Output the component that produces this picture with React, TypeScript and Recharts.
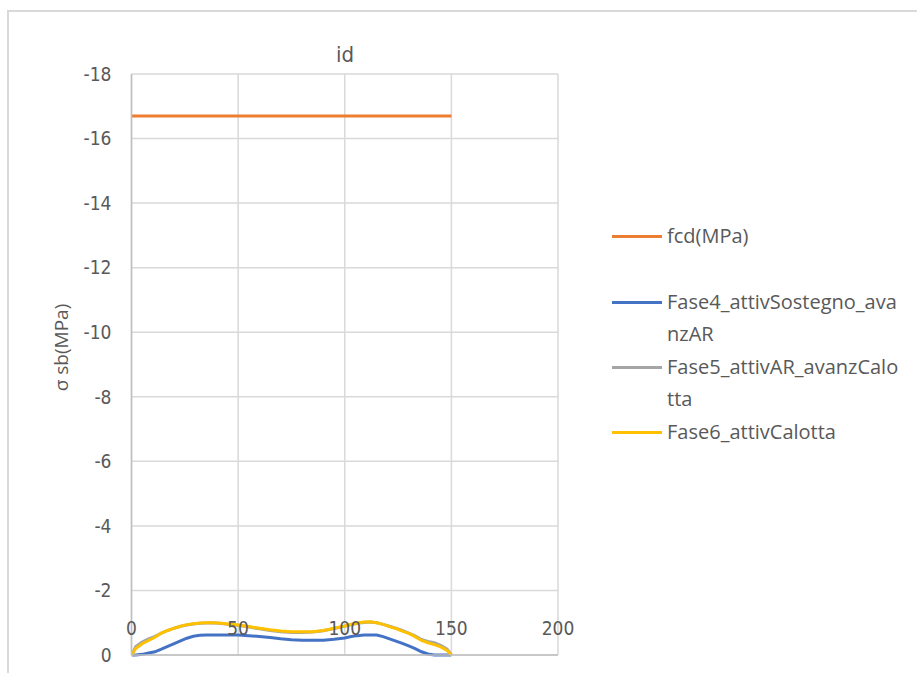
import { LineChart, Line, XAxis, YAxis, CartesianGrid, Legend } from "recharts";

// x positions (m) shared by the three phase curves
const stations = [0, 2, 5, 8, 11, 14, 17, 20, 23, 26, 29, 32, 35, 38, 41, 44, 47, 50, 55, 60, 65, 70, 75, 80, 85, 90, 95, 100, 103, 106, 109, 112, 115, 118, 121, 124, 127, 130, 133, 136, 139, 142, 145, 148, 150];

const fase4 = [0, 0, -0.02, -0.06, -0.1, -0.18, -0.27, -0.35, -0.44, -0.52, -0.58, -0.61, -0.62, -0.62, -0.62, -0.62, -0.62, -0.62, -0.6, -0.57, -0.54, -0.5, -0.47, -0.46, -0.46, -0.46, -0.49, -0.53, -0.57, -0.6, -0.62, -0.62, -0.62, -0.57, -0.5, -0.43, -0.36, -0.28, -0.2, -0.1, -0.03, 0, 0, 0, 0];
const fase5 = [0, -0.26, -0.4, -0.5, -0.58, -0.68, -0.76, -0.83, -0.89, -0.93, -0.96, -0.98, -0.99, -0.99, -0.98, -0.96, -0.94, -0.92, -0.87, -0.81, -0.76, -0.72, -0.7, -0.7, -0.71, -0.75, -0.82, -0.89, -0.94, -0.98, -1.01, -1.02, -1.0, -0.95, -0.89, -0.83, -0.76, -0.68, -0.59, -0.48, -0.42, -0.38, -0.3, -0.18, 0];
const fase6 = [0, -0.2, -0.35, -0.45, -0.55, -0.68, -0.76, -0.83, -0.89, -0.94, -0.97, -0.99, -1.0, -1.0, -0.99, -0.97, -0.95, -0.93, -0.88, -0.83, -0.78, -0.74, -0.72, -0.72, -0.72, -0.76, -0.83, -0.9, -0.95, -0.99, -1.02, -1.03, -1.0, -0.95, -0.88, -0.82, -0.74, -0.67, -0.57, -0.45, -0.38, -0.32, -0.25, -0.14, 0];

const fcdX = [0, 150];
const fcdY = [-16.7, -16.7];

const xTicks = [0, 50, 100, 150, 200];
const yTicks = [-18, -16, -14, -12, -10, -8, -6, -4, -2, 0];

const toPoints = (xs: number[], ys: number[]) => xs.map((x, i) => ({ x, y: ys[i] }));

const series = [
  { name: "fcd(MPa)", color: "#ED7D31", data: toPoints(fcdX, fcdY) },
  { name: "Fase4_attivSostegno_avanzAR", color: "#4472C4", data: toPoints(stations, fase4) },
  { name: "Fase5_attivAR_avanzCalotta", color: "#A5A5A5", data: toPoints(stations, fase5) },
  { name: "Fase6_attivCalotta", color: "#FFC000", data: toPoints(stations, fase6) },
];

const TEXT = "#595959";
const AXIS_FONT = "'Liberation Sans Narrow', 'DejaVu Sans Condensed', 'Liberation Sans', sans-serif";
const LEGEND_FONT = "'Open Sans', 'Noto Sans', sans-serif";

function XTick({ x, y, payload }: any) {
  return (
    <text x={x} y={y - 20} textAnchor="middle" fill={TEXT} fontSize={19} fontFamily={AXIS_FONT}>
      {payload.value}
    </text>
  );
}

function YLabel({ viewBox }: any) {
  const cx = viewBox.x + viewBox.width / 2 - 5;
  const cy = viewBox.y + viewBox.height / 2 - 17;
  return (
    <text x={cx} y={cy} transform={`rotate(-90, ${cx}, ${cy})`} textAnchor="middle" dominantBaseline="central"
      fill={TEXT} fontSize={19} fontFamily={LEGEND_FONT}>
      σ sb(MPa)
    </text>
  );
}

function LegendBox() {
  return (
    <div style={{ fontFamily: LEGEND_FONT, fontSize: 20, color: TEXT, lineHeight: "32.5px", textAlign: "left" }}>
      {series.map((s, i) => (
        <div key={s.name} style={{ display: "flex", alignItems: "flex-start", marginBottom: i === 0 ? 33 : 0 }}>
          <div style={{ width: 50, height: 3, background: s.color, marginTop: 15, flexShrink: 0 }} />
          <div style={{ marginLeft: 5, width: 233, wordBreak: "break-all" }}>{s.name}</div>
        </div>
      ))}
    </div>
  );
}

export default function App() {
  return (
    <div style={{ position: "fixed", left: 0, top: 0, width: 917, height: 673, overflow: "hidden", background: "#fff" }}>
      <div style={{ position: "absolute", left: 7, top: 10, width: 1200, height: 1000, border: "2px solid #d9d9d9" }} />
      <div style={{ position: "absolute", left: 245, width: 200, top: 42, textAlign: "center", fontFamily: AXIS_FONT, fontSize: 22, color: TEXT }}>
        id
      </div>
      <LineChart width={917} height={673} margin={{ top: 74, right: 359, bottom: 0, left: 0 }}>
        <CartesianGrid stroke="#d9d9d9" strokeWidth={1.5} />
        <XAxis type="number" dataKey="x" domain={[0, 200]} ticks={xTicks} height={18} tickSize={0} tickMargin={0}
          stroke="#bfbfbf" strokeWidth={1.5} tick={<XTick />} allowDataOverflow />
        <YAxis type="number" dataKey="y" domain={[-18, 0]} ticks={yTicks} reversed width={131.5} tickSize={0} tickMargin={20}
          stroke="#bfbfbf" strokeWidth={1.5} tickLine={false}
          tick={{ fill: TEXT, fontSize: 19, fontFamily: AXIS_FONT }} label={<YLabel />} />
        <Legend layout="horizontal" verticalAlign="middle" align="center" content={<LegendBox />}
          wrapperStyle={{ left: 612, top: 220, width: 300 }} />
        {series.map((s) => (
          <Line key={s.name} data={s.data} dataKey="y" name={s.name} type="linear" stroke={s.color} strokeWidth={3}
            dot={false} isAnimationActive={false} />
        ))}
      </LineChart>
    </div>
  );
}
